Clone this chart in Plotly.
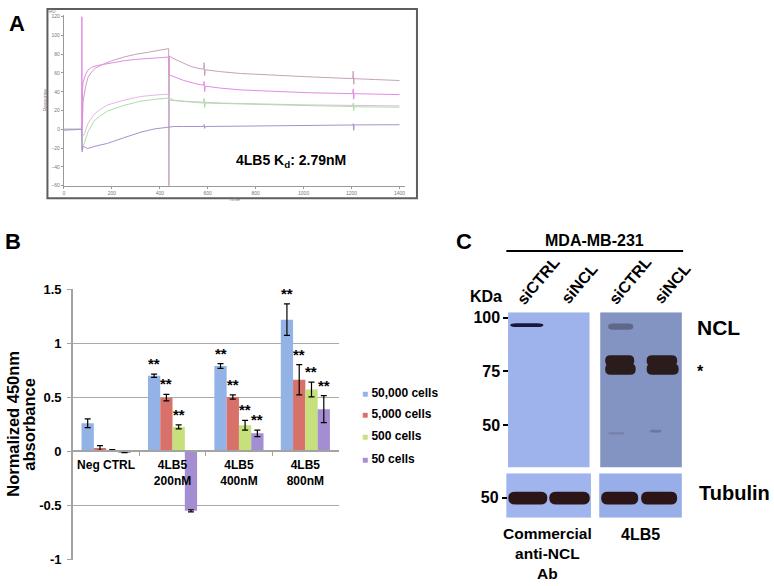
import plotly.graph_objects as go

W, H = 774, 586
FONT = "Liberation Sans, Arial, Helvetica, sans-serif"

# ---------------- Panel A: sensorgram (time s, response RU) ----------------
a_t_mauve = [0, 74, 76, 80, 90, 100, 112, 130, 160, 200, 250, 300, 350, 400, 436, 437, 438, 440, 460, 500,
             529, 560, 583, 585, 587, 590, 650, 737, 900, 1015, 1205, 1207, 1209, 1211, 1300, 1400]
a_r_mauve = [0, 0, -5, 30, 45, 55, 60, 65, 69, 73, 77, 80, 82, 84, 86, 86, -70, 78, 75, 70,
             67, 65, 64, 71, 57, 63.5, 61.5, 59.5, 57, 56, 54, 62, 48, 54, 53, 52]

a_t_pink = [0, 74, 75, 76, 77, 80, 90, 100, 115, 140, 200, 250, 300, 350, 400, 437, 440, 460, 500, 560,
            583, 585, 587, 590, 650, 737, 900, 1015, 1205, 1207, 1209, 1211, 1300, 1400]
a_r_pink = [0, 0, 120, -22, 40, 50, 58, 63, 66, 68, 71, 73, 74.5, 75.5, 76.5, 77, 58, 56, 52, 48,
            47, 51, 40, 46, 44, 42, 40, 39, 38, 43, 32, 38, 37.5, 37]

a_t_lav = [0, 74, 78, 85, 100, 126, 150, 182, 250, 321, 380, 437, 440, 460, 500, 560, 585, 650, 737,
           900, 1015, 1208, 1300, 1400]
a_r_lav = [0, 0, -8, -5, 6, 16, 21, 26, 31, 35, 36.5, 37.5, 33, 31, 30, 29, 28.5, 28, 27.5,
           26.5, 26, 25.5, 25.2, 25]

a_t_green = [0, 74, 78, 85, 100, 126, 150, 182, 250, 321, 380, 437, 440, 460, 500, 560, 583, 585, 587,
             590, 650, 737, 900, 1015, 1205, 1207, 1209, 1211, 1300, 1400]
a_r_green = [0, 0, -18, -15, -3, 9, 14, 19.5, 25.5, 30, 32, 33.3, 31, 30.5, 29.5, 28.5, 28, 33, 23,
             28, 27.5, 26.8, 26, 25.3, 24.3, 28, 20, 24, 23.8, 23.5]

a_t_purple = [0, 74, 76, 80, 92, 99, 130, 182, 250, 321, 380, 437, 460, 500, 583, 585, 587, 590, 737,
              1015, 1205, 1207, 1209, 1211, 1300, 1400]
a_r_purple = [-1, 0, -24, -18, -19.5, -20.5, -18, -15, -9, -3, 0.5, 2.7, 3, 3, 3, 5, 1, 3, 3.5,
              4.2, 4.6, 6, -1, 4.7, 4.8, 4.9]

a_xticks = [0, 200, 400, 600, 800, 1000, 1200, 1400]
a_yticks = [-60, -40, -20, 0, 20, 40, 60, 80, 100, 120]

# ---------------- Panel B: bar chart ----------------
b_categories = ["Neg CTRL", "4LB5<br>200nM", "4LB5<br>400nM", "4LB5<br>800nM"]
b_series = ["50,000 cells", "5,000 cells", "500 cells", "50 cells"]
b_vals_50000 = [0.26, 0.70, 0.79, 1.22]
b_err_50000 = [0.04, 0.015, 0.022, 0.146]
b_vals_5000 = [0.03, 0.497, 0.503, 0.663]
b_err_5000 = [0.022, 0.03, 0.02, 0.14]
b_vals_500 = [0.01, 0.226, 0.241, 0.572]
b_err_500 = [0.005, 0.018, 0.045, 0.068]
b_vals_50 = [-0.008, -0.552, 0.166, 0.39]
b_err_50 = [0.004, 0.01, 0.03, 0.125]
b_stars_50000 = [False, True, True, True]
b_stars_5000 = [False, True, True, True]
b_stars_500 = [False, True, True, True]
b_stars_50 = [False, False, True, True]
b_yticks = [-1, -0.5, 0, 0.5, 1, 1.5]
b_yticktext = ["-1", "-0.5", "0", "0.5", "1", "1.5"]

# ---------------- Panel C: western blot ----------------
c_lanes = ["siCTRL", "siNCL", "siCTRL", "siNCL"]
c_lane_pos = [1.0, 2.0, 3.24, 4.27]
c_marker_kda = [100, 75, 50]
c_tubulin_kda = [50]


def px(x):
    return x / W


def py(y):
    return 1 - y / H


fig = go.Figure()

# Panel A traces
a_curves = [
    (a_t_mauve, a_r_mauve, "#c6a0bb"),
    (a_t_pink, a_r_pink, "#e38be3"),
    (a_t_lav, a_r_lav, "#e2b8e2"),
    (a_t_green, a_r_green, "#a9e0a2"),
    (a_t_purple, a_r_purple, "#a892c9"),
]
for t, r, col in a_curves:
    fig.add_trace(go.Scatter(x=t, y=r, mode="lines", line=dict(color=col, width=1),
                             xaxis="x", yaxis="y", showlegend=False, hoverinfo="skip"))

# Panel B traces
b_colors = ["#93b3e6", "#d9716b", "#c6e07b", "#a58dd2"]
b_vals = [b_vals_50000, b_vals_5000, b_vals_500, b_vals_50]
b_errs = [b_err_50000, b_err_5000, b_err_500, b_err_50]
b_stars = [b_stars_50000, b_stars_5000, b_stars_500, b_stars_50]
BARGAP = 0.26
for name, vals, errs, col in zip(b_series, b_vals, b_errs, b_colors):
    fig.add_trace(go.Bar(x=b_categories, y=vals, name=name,
                         marker=dict(color=col, line=dict(width=0)),
                         error_y=dict(type="data", array=errs, color="black", thickness=1.2, width=3),
                         xaxis="x2", yaxis="y2", showlegend=False, hoverinfo="skip"))

# Panel C anchor traces (invisible) so the blot axes exist
fig.add_trace(go.Scatter(x=[c_lane_pos[0]], y=[c_marker_kda[0]], xaxis="x3", yaxis="y3", mode="markers",
                         marker=dict(opacity=0), showlegend=False, hoverinfo="skip"))
fig.add_trace(go.Scatter(x=[c_lane_pos[0]], y=[c_tubulin_kda[0]], xaxis="x3", yaxis="y4", mode="markers",
                         marker=dict(opacity=0), showlegend=False, hoverinfo="skip"))

annotations = []
shapes = []


def txt(x, y, s, size, xref="paper", yref="paper", xanchor="center", yanchor="middle", angle=0,
        color="black", bold=True):
    annotations.append(dict(x=x, y=y, xref=xref, yref=yref, text=("<b>%s</b>" % s) if bold else s,
                            showarrow=False, xanchor=xanchor, yanchor=yanchor, textangle=angle,
                            font=dict(family=FONT, size=size, color=color)))


# Panel labels
txt(px(16), py(17), "A", 22)
txt(px(12), py(240), "B", 22)
txt(px(464), py(240), "C", 22)

# Panel A decorations
shapes.append(dict(type="rect", xref="paper", yref="paper", x0=px(46.5), x1=px(416.5), y0=py(196), y1=py(2),
                   line=dict(color="#5e5e5e", width=2), fillcolor="rgba(0,0,0,0)"))
txt(px(52), py(4.5), "RU", 4.5, color="#777", bold=False)
annotations.append(dict(x=px(290), y=py(158), xref="paper", yref="paper", xanchor="center",
                        yanchor="middle", text="<b>4LB5 K<sub>d</sub>: 2.79nM</b>", showarrow=False,
                        font=dict(family=FONT, size=14, color="black")))

# Panel B: y title
txt(px(12), py(427), "Normalized 450nm", 16.5, angle=-90)
txt(px(28), py(427), "absorbance", 16.5, angle=-90)

# Panel B: stars
bw = (1 - BARGAP) / len(b_series)
for k, (vals, errs, flags) in enumerate(zip(b_vals, b_errs, b_stars)):
    for i, (v, e, f) in enumerate(zip(vals, errs, flags)):
        if f:
            annotations.append(dict(x=i + (k - 1.5) * bw, y=v + e, xref="x2", yref="y2",
                                    text="<b>**</b>", showarrow=False, xanchor="center", yanchor="bottom",
                                    font=dict(family=FONT, size=15, color="black")))

# Panel B: legend
leg_y = [395, 416.7, 439.3, 462.7]
for name, col, ly in zip(b_series, b_colors, leg_y):
    annotations.append(dict(x=px(359), y=py(ly), xref="paper", yref="paper", xanchor="left",
                            yanchor="middle",
                            text="<span style='color:%s;font-size:10px'>■</span><b> %s</b>" % (col, name),
                            showarrow=False, font=dict(family=FONT, size=12, color="black")))

# Panel C
LANE_PX0, LANE_STEP = 527.0, 41.0


def lane_of(xpx):
    return (xpx - LANE_PX0) / LANE_STEP + 1


txt(px(594), py(239), "MDA-MB-231", 16)
shapes.append(dict(type="line", xref="x3", yref="paper", x0=lane_of(506), x1=lane_of(683),
                   y0=py(250), y1=py(250), line=dict(color="black", width=2)))
txt(px(486), py(296.5), "KDa", 16)
lab_y = [284, 287, 284, 287]
for name, lp, ly in zip(c_lanes, c_lane_pos, lab_y):
    txt(lp + 0.27, py(ly - 4), name, 16, xref="x3", angle=-50)

# blot backgrounds
NCL_LO, NCL_HI = 30.3, 102.5
TUB_LO, TUB_HI = 40.6, 61.4
shapes += [
    dict(type="rect", xref="x3", yref="y3", x0=lane_of(507.7), x1=lane_of(589.3), y0=NCL_LO, y1=NCL_HI,
         fillcolor="#9eb2ec", line=dict(width=0), layer="below"),
    dict(type="rect", xref="x3", yref="y3", x0=lane_of(600), x1=lane_of(681.7), y0=NCL_LO, y1=NCL_HI,
         fillcolor="#8393c2", line=dict(width=0), layer="below"),
    dict(type="rect", xref="x3", yref="y4", x0=lane_of(506), x1=lane_of(590.7), y0=TUB_LO, y1=TUB_HI,
         fillcolor="#a0b5ee", line=dict(width=0), layer="below"),
    dict(type="rect", xref="x3", yref="y4", x0=lane_of(599), x1=lane_of(681.7), y0=TUB_LO, y1=TUB_HI,
         fillcolor="#98aee8", line=dict(width=0), layer="below"),
]


def band(x0, x1, y0, y1, color, yref="y3", opacity=1.0):
    rx = (x1 - x0) * 0.18
    ry = (y1 - y0) * 0.45
    p = ("M %f,%f L %f,%f Q %f,%f %f,%f L %f,%f Q %f,%f %f,%f L %f,%f Q %f,%f %f,%f L %f,%f Q %f,%f %f,%f Z"
         % (x0 + rx, y0, x1 - rx, y0, x1, y0, x1, y0 + ry, x1, y1 - ry, x1, y1, x1 - rx, y1,
            x0 + rx, y1, x0, y1, x0, y1 - ry, x0, y0 + ry, x0, y0, x0 + rx, y0))
    shapes.append(dict(type="path", path=p, xref="x3", yref=yref, fillcolor=color,
                       line=dict(width=0), opacity=opacity))


# NCL bands
band(lane_of(510), lane_of(543), 95.6, 97.4, "#17183c")
band(lane_of(608), lane_of(633), 94.4, 97.2, "#4a4b63", opacity=0.6)
for xa, xb in [(605, 634), (646.5, 677)]:
    band(lane_of(xa), lane_of(xb), 77.5, 82.5, "#2a1b1d")
    band(lane_of(xa), lane_of(xb + 1.5), 73.4, 78.6, "#2a1b1d")
band(lane_of(608), lane_of(624), 45.6, 46.8, "#6c7396", opacity=0.5)
band(lane_of(650), lane_of(661), 46.5, 47.8, "#5e6488", opacity=0.6)
# Tubulin bands
for xa, xb in [(508, 547), (549, 589.5), (601, 638), (641, 677)]:
    band(lane_of(xa), lane_of(xb), 46.8, 52.8, "#2c1517", yref="y4")

txt(px(718), py(328), "NCL", 21)
txt(px(700), py(373), "*", 16)
txt(px(734), py(498), "Tubulin", 20)
annotations.append(dict(x=(c_lane_pos[0] + c_lane_pos[1]) / 2, y=py(560), xref="x3", yref="paper",
                        xanchor="center", yanchor="middle",
                        text="<b>Commercial<br>anti-NCL<br>Ab</b>", showarrow=False,
                        font=dict(family=FONT, size=15.5, color="black")))
txt((c_lane_pos[2] + c_lane_pos[3]) / 2, py(540), "4LB5", 16, xref="x3")

tinyfont = dict(family=FONT, size=5, color="#777")
fig.update_layout(
    width=W, height=H, margin=dict(l=0, r=0, t=0, b=0),
    paper_bgcolor="white", plot_bgcolor="white",
    font=dict(family=FONT, color="black"),
    barmode="group", bargap=BARGAP, bargroupgap=0,
    xaxis=dict(domain=[px(63), px(405)], range=[0, 1425], anchor="y", tickvals=a_xticks,
               ticks="outside", ticklen=2, tickcolor="#999", showline=True, linecolor="#999", linewidth=1,
               showgrid=False, zeroline=False, tickfont=tinyfont,
               title=dict(text="Time", font=tinyfont, standoff=2)),
    yaxis=dict(domain=[py(183), py(8)], range=[-60, 122], anchor="x", tickvals=a_yticks,
               ticks="outside", ticklen=2, tickcolor="#999", showline=True, linecolor="#999", linewidth=1,
               showgrid=False, zeroline=False, tickfont=tinyfont,
               title=dict(text="Response", font=tinyfont, standoff=3)),
    xaxis2=dict(domain=[px(72), px(338)], anchor="free", position=py(455), type="category",
                showline=True, linecolor="#a3a3a3", linewidth=1.5, ticks="outside", tickson="boundaries",
                ticklen=4, tickcolor="#a3a3a3", showgrid=False, zeroline=False, ticklabelstandoff=3,
                tickangle=0,
                tickfont=dict(family=FONT, size=12, color="black", weight="bold")),
    yaxis2=dict(domain=[py(566.1), py(288.9)], range=[-1.004, 1.504], anchor="x2", tickvals=b_yticks,
                ticktext=b_yticktext, showgrid=True, gridcolor="#aaaaaa", gridwidth=1, zeroline=False,
                showline=True, linecolor="#a3a3a3", linewidth=1.5, ticks="outside", ticklen=4,
                tickcolor="#a3a3a3", ticklabelstandoff=3,
                tickfont=dict(family=FONT, size=13, color="black", weight="bold")),
    xaxis3=dict(domain=[px(490), px(705)], range=[lane_of(490), lane_of(705)], anchor="y3", visible=False),
    yaxis3=dict(domain=[py(471.7), py(312.7)], range=[NCL_LO, NCL_HI], anchor="free", position=px(508),
                tickvals=c_marker_kda, ticks="outside", ticklen=5, tickwidth=2, tickcolor="black",
                showline=False, showgrid=False, zeroline=False,
                tickfont=dict(family=FONT, size=16, color="black", weight="bold")),
    yaxis4=dict(domain=[py(523.3), py(477.7)], range=[TUB_LO, TUB_HI], anchor="free", position=px(506.5),
                tickvals=c_tubulin_kda, ticks="outside", ticklen=5, tickwidth=2, tickcolor="black",
                showline=False, showgrid=False, zeroline=False,
                tickfont=dict(family=FONT, size=16, color="black", weight="bold")),
    annotations=annotations,
    shapes=shapes,
)

fig.write_html("out.html", config={"displayModeBar": False},
               post_script="document.body.style.margin='0';document.body.style.overflow='hidden';")
